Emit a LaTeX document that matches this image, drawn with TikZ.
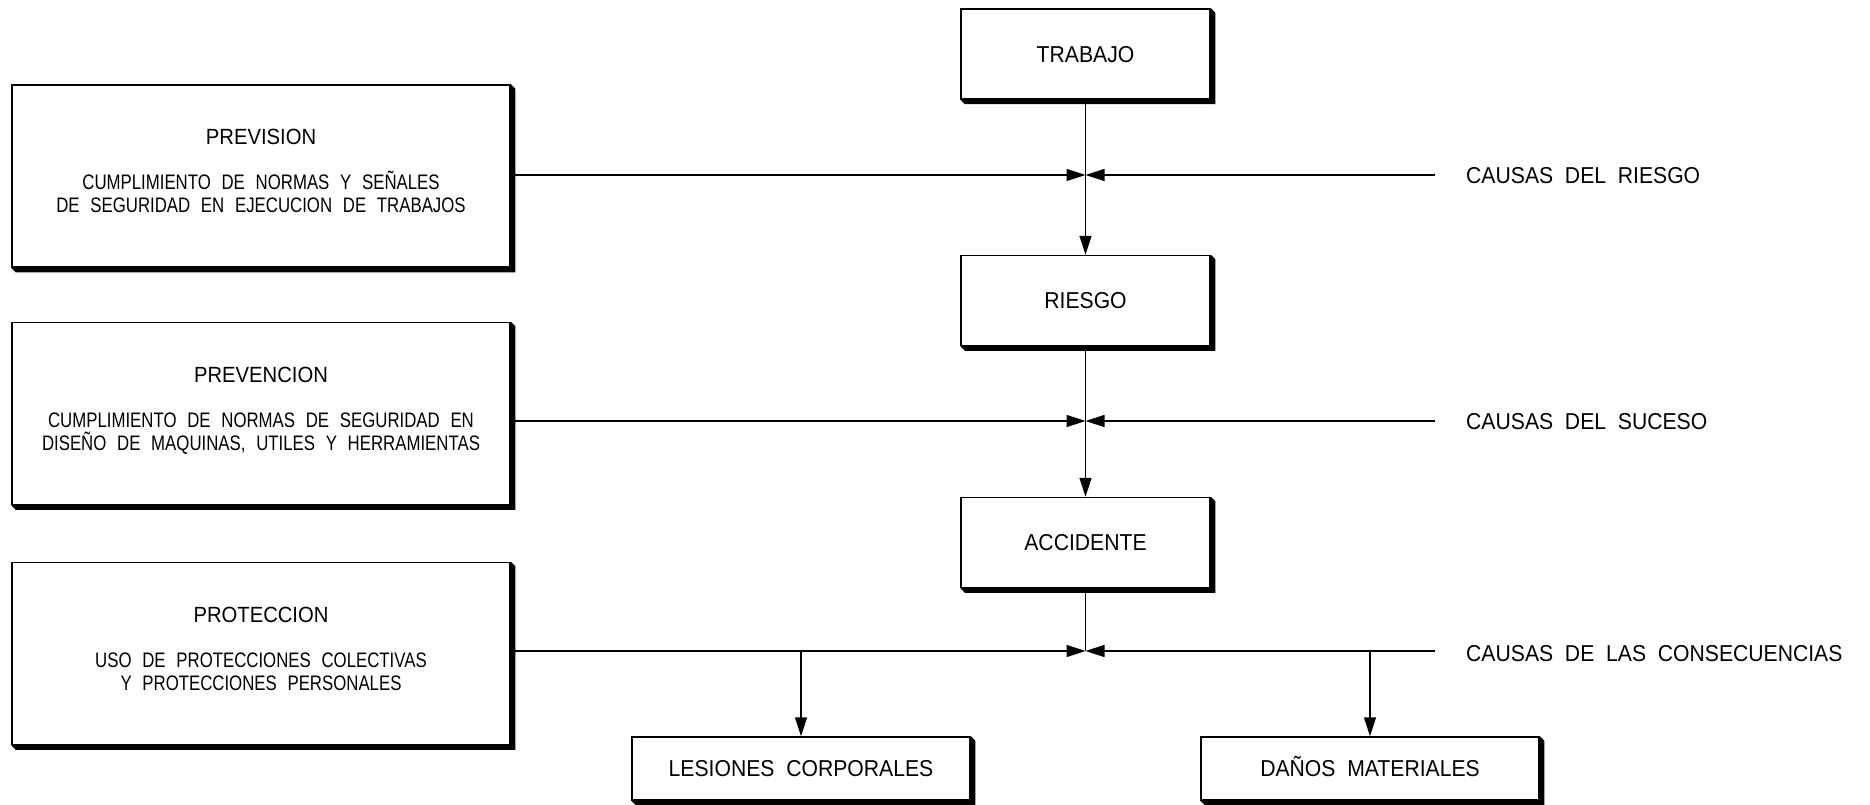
\documentclass[tikz,border=0pt]{standalone}
\usepackage{fontspec}
\setmainfont{Liberation Sans}[FakeStretch=0.92,WordSpace=2]
\newfontfamily\bodyfnt{Liberation Sans}[FakeStretch=0.80,WordSpace=2.3]
\usetikzlibrary{arrows.meta}
\pgfdeclarelayer{bg}
\pgfsetlayers{bg,main}
\begin{document}
\begin{tikzpicture}[x=1pt,y=-1pt,
  box/.style={draw=black, fill=white, line width=1.5pt, inner sep=0pt,
    font=\fontsize{23}{27}\selectfont, text height=16.4pt, text depth=0pt},
  bigbox/.style={box, minimum width=498pt, minimum height=182pt},
  midbox/.style={box, minimum width=249pt, minimum height=90pt},
  lowbox/.style={box, minimum width=338pt, minimum height=63pt},
  ttl/.style={font=\fontsize{22}{26}\selectfont, inner sep=0pt, text height=15.7pt, text depth=0pt},
  body/.style={font=\bodyfnt\fontsize{21}{24}\selectfont, inner sep=0pt, text height=15pt, text depth=0pt},
  lab/.style={font=\fontsize{23}{27}\selectfont, anchor=west, inner sep=0pt, text height=16.4pt, text depth=0pt},
  conn/.style={line width=1.5pt},
  arr/.style={conn, -{Triangle[length=19pt,width=12pt]}},
]
\useasboundingbox (0,0) rectangle (1870,805);

% central chain
\node[midbox] (trabajo) at (1085.5,54) {TRABAJO};
\node[midbox] (riesgo) at (1085.5,300.5) {RIESGO};
\node[midbox] (accidente) at (1085.5,542.5) {ACCIDENTE};

% left boxes
\node[bigbox] (prevision) at (261,176) {};
\node[bigbox] (prevencion) at (261,413.5) {};
\node[bigbox] (proteccion) at (261,653.5) {};

\node[ttl] (t1) at ([yshift=-52.5pt]prevision.north) {PREVISION};
\node[body] (t1a) at ([yshift=-98pt]prevision.north) {CUMPLIMIENTO DE NORMAS Y SEÑALES};
\node[body] (t1b) at ([yshift=-121pt]prevision.north) {DE SEGURIDAD EN EJECUCION DE TRABAJOS};

\node[ttl] (t2) at ([yshift=-52.5pt]prevencion.north) {PREVENCION};
\node[body] (t2a) at ([yshift=-98pt]prevencion.north) {CUMPLIMIENTO DE NORMAS DE SEGURIDAD EN};
\node[body] (t2b) at ([yshift=-121pt]prevencion.north) {DISEÑO DE MAQUINAS, UTILES Y HERRAMIENTAS};

\node[ttl] (t3) at ([yshift=-52.5pt]proteccion.north) {PROTECCION};
\node[body] (t3a) at ([yshift=-98pt]proteccion.north) {USO DE PROTECCIONES COLECTIVAS};
\node[body] (t3b) at ([yshift=-121pt]proteccion.north) {Y PROTECCIONES PERSONALES};

% bottom boxes
\node[lowbox] (lesiones) at (801,768.5) {LESIONES CORPORALES};
\node[lowbox] (danos) at (1370,768.5) {DAÑOS MATERIALES};

% shadows
\begin{pgfonlayer}{bg}
\foreach \n in {trabajo,riesgo,accidente,prevision,prevencion,proteccion,lesiones,danos}{
  \fill[black] (\n.north east) -- ++(4.5,4.5) -- ([shift={(4.5,4.5)}]\n.south east)
    -- ([shift={(4.5,4.5)}]\n.south west) -- (\n.south west) -- cycle;
}
\end{pgfonlayer}

% junctions and ends
\coordinate (j1) at (1085.5,175);
\coordinate (j2) at (1085.5,421);
\coordinate (j3) at (1085.5,651);
\coordinate (r1) at (1435,175);
\coordinate (r2) at (1435,421);
\coordinate (r3) at (1435,651);
\coordinate (b1) at (lesiones.north |- j3);
\coordinate (b2) at (danos.north |- j3);

% labels
\node[lab] (c1) at (1466,175) {CAUSAS DEL RIESGO};
\node[lab] (c2) at (1466,421) {CAUSAS DEL SUCESO};
\node[lab] (c3) at (1466,653) {CAUSAS DE LAS CONSECUENCIAS};

% connectors
\draw[arr] (trabajo) -- (riesgo);
\draw[arr] (riesgo) -- (accidente);
\draw[conn] (accidente) -- (j3);

\draw[arr] (prevision.east |- j1) -- (j1);
\draw[arr] (r1) -- (j1);
\draw[arr] (prevencion.east |- j2) -- (j2);
\draw[arr] (r2) -- (j2);
\draw[arr] (proteccion.east |- j3) -- (j3);
\draw[arr] (r3) -- (j3);

\draw[arr] (b1) -- (lesiones);
\draw[arr] (b2) -- (danos);
\end{tikzpicture}
\end{document}
